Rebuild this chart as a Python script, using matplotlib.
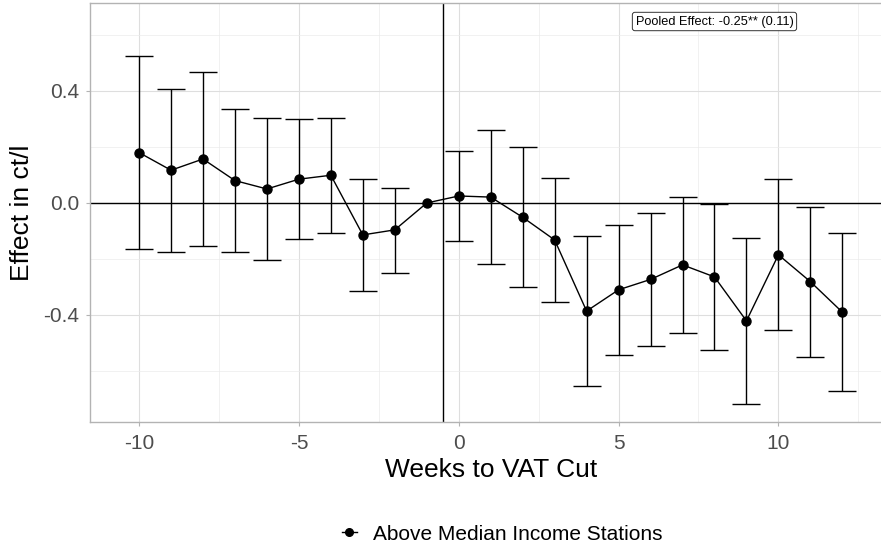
import numpy as np
import matplotlib.pyplot as plt
from matplotlib.lines import Line2D

plt.rcParams['font.family'] = ['Liberation Sans', 'DejaVu Sans']
plt.rcParams['axes.unicode_minus'] = False

# event-study estimates
weeks = [-10, -9, -8, -7, -6, -5, -4, -3, -2, -1, 0, 1, 2, 3, 4, 5, 6, 7, 8, 9, 10, 11, 12]
estimate = [0.180, 0.117, 0.157, 0.080, 0.050, 0.085, 0.099, -0.114, -0.096, 0.0,
            0.025, 0.021, -0.051, -0.132, -0.386, -0.310, -0.273, -0.221, -0.264,
            -0.421, -0.185, -0.281, -0.390]
ci_low = [-0.165, -0.174, -0.152, -0.176, -0.202, -0.130, -0.106, -0.314, -0.250, 0.0,
          -0.135, -0.217, -0.301, -0.354, -0.655, -0.542, -0.511, -0.464, -0.524,
          -0.717, -0.454, -0.550, -0.673]
ci_high = [0.525, 0.407, 0.467, 0.336, 0.304, 0.299, 0.304, 0.086, 0.055, 0.0,
           0.186, 0.260, 0.200, 0.089, -0.117, -0.077, -0.035, 0.021, -0.005,
           -0.125, 0.085, -0.013, -0.107]
ref_week = -1
pooled_text = 'Pooled Effect: -0.25** (0.11)'
series_name = 'Above Median Income Stations'

W, H = 881, 544
fig = plt.figure(figsize=(W / 100, H / 100), dpi=100)

# panel in pixel coords (right edge runs past the image, like the reference)
px_left, px_right, px_top, px_bottom = 89.5, 893.5, 3.3, 421.7
ax = fig.add_axes([px_left / W, 1 - px_bottom / H,
                   (px_right - px_left) / W, (px_bottom - px_top) / H])

ax.set_xlim(-11.55, 13.6)
ax.set_ylim(-0.781, 0.713)

ax.set_xticks([-10, -5, 0, 5, 10])
ax.set_xticks([-7.5, -2.5, 2.5, 7.5, 12.5], minor=True)
ax.set_yticks([-0.4, 0.0, 0.4])
ax.set_yticks([-0.6, -0.2, 0.2, 0.6], minor=True)
ax.set_yticklabels(['-0.4', '0.0', '0.4'])
ax.grid(which='major', color='#dedede', lw=0.8)
ax.grid(which='minor', color='#ebebeb', lw=0.5)
ax.set_axisbelow(True)
for s in ax.spines.values():
    s.set_color('#b3b3b3')
    s.set_linewidth(1.0)
ax.tick_params(which='major', length=3, color='#b3b3b3', labelsize=15,
               labelcolor='#4d4d4d')
ax.tick_params(axis='x', pad=6)
ax.tick_params(axis='y', pad=4.5)
ax.tick_params(which='minor', length=0)

ax.axhline(0, color='black', lw=1.0, zorder=2)
ax.axvline(ref_week + 0.5, color='black', lw=1.0, zorder=2)

w = np.array(weeks)
est = np.array(estimate)
lo = np.array(ci_low)
hi = np.array(ci_high)
m = w != ref_week
ax.errorbar(w[m], est[m], yerr=[est[m] - lo[m], hi[m] - est[m]], fmt='none',
            ecolor='black', elinewidth=1.0, capsize=10.3, capthick=1.0, zorder=3)
ax.plot(w, est, color='black', lw=1.0, marker='o', markersize=6.5, zorder=4)

ax.text(8.0, 0.648, pooled_text, fontsize=9.2, ha='center', va='center',
        bbox=dict(boxstyle='round,pad=0.25,rounding_size=0.2', fc='white',
                  ec='#333333', lw=0.7), zorder=5)

fig.text(491.5 / W, 1 - 470 / H, 'Weeks to VAT Cut', fontsize=19,
         ha='center', va='center')
fig.text(22.5 / W, 1 - 212.5 / H, 'Effect in ct/l', fontsize=19,
         ha='center', va='center', rotation=90)

handle = Line2D([], [], color='black', marker='o', markersize=5.5, lw=1.0)
fig.legend(handles=[handle], labels=[series_name], loc='center',
           bbox_to_anchor=(502 / W, 1 - 534 / H), frameon=False, fontsize=15,
           handlelength=0.75, handletextpad=0.75, borderpad=0)

fig.savefig('out.png', dpi=100)
